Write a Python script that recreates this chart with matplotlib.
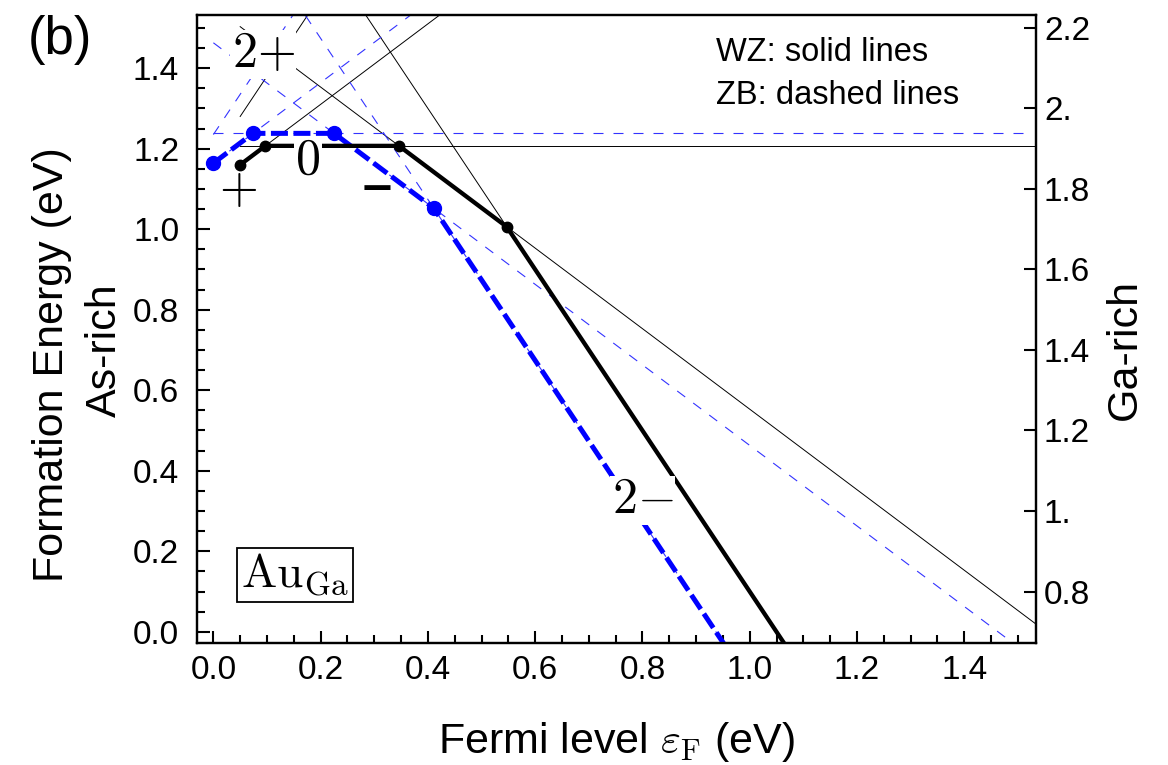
import matplotlib.pyplot as plt
import numpy as np

plt.rcParams['font.family'] = ['Liberation Sans', 'DejaVu Sans']
plt.rcParams['mathtext.fontset'] = 'cm'

# charge states and their formation energy at eF = 0 (eV, As-rich)
charges = [2, 1, 0, -1, -2]
wz_e0 = [1.18, 1.11, 1.207, 1.553, 2.10]
zb_e0 = [1.235, 1.164, 1.238, 1.463, 1.874]
# Fermi level range of each phase
wz_range = [0.05, 1.60]
zb_range = [0.0, 1.52]
# As-rich -> Ga-rich offset for the right axis
ga_rich_shift = 0.70

x_ticks = [0.0, 0.2, 0.4, 0.6, 0.8, 1.0, 1.2, 1.4]
x_labels = ['0.0', '0.2', '0.4', '0.6', '0.8', '1.0', '1.2', '1.4']
left_ticks = [0.0, 0.2, 0.4, 0.6, 0.8, 1.0, 1.2, 1.4]
left_labels = ['0.0', '0.2', '0.4', '0.6', '0.8', '1.0', '1.2', '1.4']
right_ticks = [0.8, 1.0, 1.2, 1.4, 1.6, 1.8, 2.0, 2.2]
right_labels = ['0.8', '1.', '1.2', '1.4', '1.6', '1.8', '2.', '2.2']


def ground_state(e0, lo, hi):
    '''lowest-energy envelope and the transition points'''
    xs = np.linspace(lo, hi, 3001)
    en = np.array([e + q * xs for q, e in zip(charges, e0)])
    state = en.argmin(axis=0)
    pts = [(lo, en[state[0], 0])]
    for i in np.nonzero(np.diff(state))[0]:
        a, b = state[i], state[i + 1]
        xt = (e0[b] - e0[a]) / (charges[a] - charges[b])
        pts.append((xt, e0[a] + charges[a] * xt))
    return xs, en.min(axis=0), np.array(pts)


fig = plt.figure(figsize=(11.68, 7.65), dpi=100)
ax = fig.add_axes([0.1689, 0.1599, 0.7177, 0.8205])

# thin lines, every charge state
for q, e in zip(charges, wz_e0):
    xx = np.array(wz_range)
    ax.plot(xx, e + q * xx, color='black', lw=0.7, zorder=2)
for q, e in zip(charges, zb_e0):
    xx = np.array(zb_range)
    ax.plot(xx, e + q * xx, color=(0.2, 0.2, 1.0), lw=0.8,
            dashes=(9, 9), zorder=2)

# thick envelopes
xs, env, pts = ground_state(zb_e0, *zb_range)
ax.plot(xs, env, color='blue', lw=3.6, dashes=(3.4, 1.1), zorder=3)
ax.plot(pts[:, 0], pts[:, 1], 'o', color='blue', ms=10, zorder=4)

xs, env, pts = ground_state(wz_e0, *wz_range)
ax.plot(xs, env, color='black', lw=3.1, solid_capstyle='butt', zorder=3)
ax.plot(pts[:, 0], pts[:, 1], 'o', color='black', ms=7.5, zorder=4)

# charge-state labels
box = dict(facecolor='white', edgecolor='none', pad=1.0)
ax.text(0.093, 1.435, r'$2{+}$', fontsize=36, ha='center', va='center',
        bbox=box, zorder=6)
ax.text(0.046, 1.097, r'$+$', fontsize=36, ha='center', va='center', zorder=6)
ax.text(0.176, 1.17, r'$0$', fontsize=36, ha='center', va='center',
        bbox=box, zorder=6)
ax.text(0.305, 1.099, '\u2212', fontsize=30, fontweight='bold',
        family='DejaVu Sans', ha='center', va='center', zorder=6)
ax.text(0.80, 0.327, r'$2{-}$', fontsize=36, ha='center', va='center',
        bbox=box, zorder=6)

ax.text(0.152, 0.142, r'$\mathrm{Au}_{\mathrm{Ga}}$', fontsize=34,
        ha='center', va='center', zorder=6,
        bbox=dict(facecolor='white', edgecolor='black', lw=1.3, pad=3))

ax.text(0.937, 1.44, 'WZ: solid lines', fontsize=23.5, va='center', zorder=6)
ax.text(0.937, 1.333, 'ZB: dashed lines', fontsize=23.5, va='center', zorder=6)

ax.set_xlim(-0.030, 1.533)
ax.set_ylim(-0.027, 1.532)
ax.set_xticks(x_ticks)
ax.set_xticklabels(x_labels)
ax.set_yticks(left_ticks)
ax.set_yticklabels(left_labels)
ax.set_xticks(np.arange(0, 1.55, 0.05), minor=True)
ax.set_yticks(np.arange(0, 1.55, 0.05), minor=True)
ax.tick_params(which='both', direction='in', top=False, right=False,
               width=1.5, labelsize=24)
ax.tick_params(which='major', length=9)
ax.tick_params(which='minor', length=5.5)
ax.tick_params(axis='x', pad=9)
ax.tick_params(axis='y', pad=13)
for s in ax.spines.values():
    s.set_linewidth(1.6)

ax2 = ax.twinx()
ax2.set_ylim(-0.027 + ga_rich_shift, 1.532 + ga_rich_shift)
ax2.set_yticks(right_ticks)
ax2.set_yticklabels(right_labels)
ax2.tick_params(direction='in', length=9, width=1.5, labelsize=24, pad=6)
for s in ax2.spines.values():
    s.set_linewidth(1.6)

fig.text(0.024, 0.948, '(b)', fontsize=38, va='center')
fig.text(52 / 1168, 1 - 365 / 765, 'Formation Energy (eV)', fontsize=31,
         rotation=90, ha='center', va='center')
fig.text(105 / 1168, 1 - 350 / 765, 'As-rich', fontsize=31,
         rotation=90, ha='center', va='center')
fig.text(1125 / 1168, 1 - 350 / 765, 'Ga-rich', fontsize=31,
         rotation=90, ha='center', va='center')
fig.text(617 / 1168, 1 - 742 / 765, r'Fermi level $\varepsilon_{\rm F}$ (eV)',
         fontsize=31, ha='center', va='center')

fig.savefig('out.png', dpi=100)
